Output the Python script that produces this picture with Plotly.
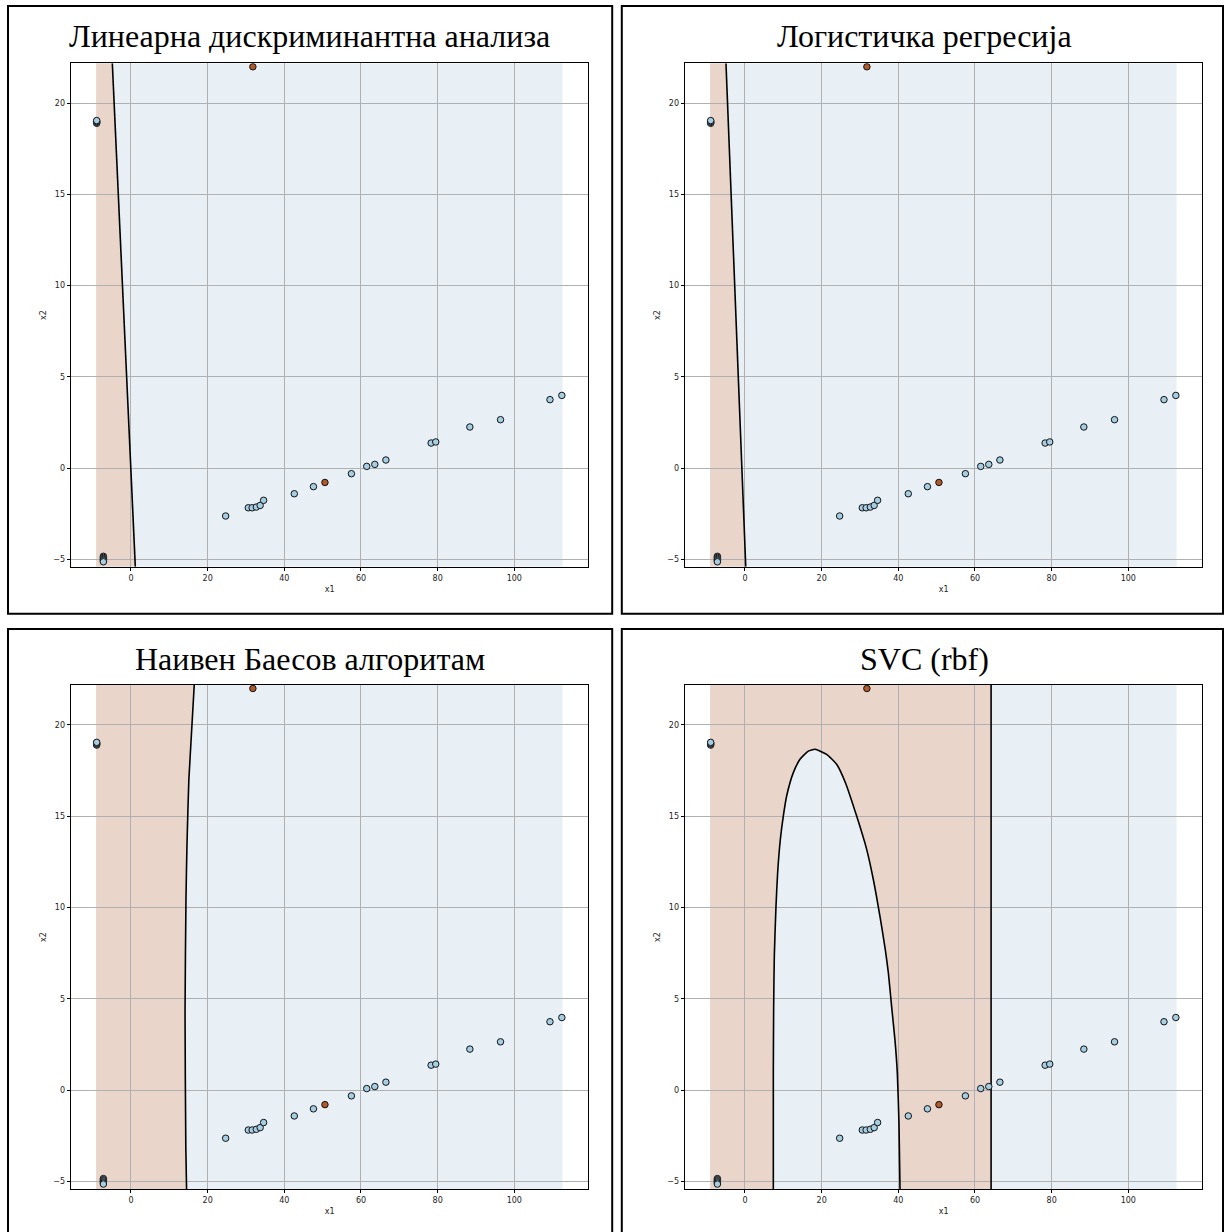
import plotly.graph_objects as go

# ---------------- data ----------------
titles = ["Линеарна дискриминантна анализа", "Логистичка регресија",
          "Наивен Баесов алгоритам", "SVC (rbf)"]

blue_x = [-8.95, -8.95, -8.95, -8.95, -7.2, -7.2, -7.2, -7.2, -7.2, -7.2,
          24.7, 30.6, 31.6, 32.7, 33.7, 34.6, 42.6, 47.6, 57.5, 61.5, 63.6,
          66.5, 78.3, 79.5, 88.4, 96.4, 109.3, 112.4]
blue_y = [18.9, 18.95, 19.0, 19.05, -4.84, -4.9, -4.96, -5.02, -5.08, -5.14,
          -2.63, -2.18, -2.18, -2.14, -2.05, -1.77, -1.41, -1.02, -0.31, 0.09, 0.2,
          0.44, 1.37, 1.43, 2.25, 2.65, 3.75, 3.98]
orange_x = [31.8, 50.6]
orange_y = [22.0, -0.79]

# mesh extent (decision-region grid)
mesh_x = [-9.1, 112.6]
mesh_y = [-5.41, 22.19]

# axis ranges
x_range = [-15.65, 119.3]
y_range = [-5.41, 22.19]
x_ticks = [0, 20, 40, 60, 80, 100]
y_ticks = [-5, 0, 5, 10, 15, 20]

# decision boundaries
lda_x = [-4.87, 1.13]
lda_y = [22.19, -5.41]
lr_x = [-4.96, 0.2]
lr_y = [22.19, -5.41]
nb_x = [16.5, 15.1, 14.6, 14.35, 14.1, 14.3, 14.5]
nb_y = [22.19, 17.02, 13.37, 10.55, 4.25, -3.08, -5.41]
svc_arch_x = [7.39, 7.39, 7.48, 7.65, 8.09, 8.52, 9.22, 10.0, 10.87, 12.61, 14.35,
              16.52, 18.26, 21.3, 23.9, 26.2, 29.13, 31.74, 33.48, 35.2, 36.6,
              37.4, 38.26, 39.13, 39.74, 40.17, 40.44]
svc_arch_y = [-5.41, 0.94, 4.56, 7.34, 10.08, 11.91, 13.73, 15.01, 16.11, 17.39, 18.12,
              18.57, 18.67, 18.39, 17.85, 16.84, 15.01, 13.19, 11.54, 9.53, 7.70,
              6.43, 4.56, 2.73, 0.94, -1.8, -5.41]
svc_line_x = [64.2, 64.2]
svc_line_y = [22.19, -5.41]

# ---------------- style ----------------
W, H = 1224, 1232
BLUE_PT = "#a6cee3"
ORANGE_PT = "#b15928"
BLUE_FILL = "#e8f0f6"
ORANGE_FILL = "#e9d5c9"
GRID = "#b0b0b0"

ax_x = [(71, 588.3), (685, 1202.3), (71, 588.3), (685, 1202.3)]
ax_y = [(63.3, 566.7), (63.3, 566.7), (685, 1189), (685, 1189)]

fig = go.Figure()
layout = dict(width=W, height=H, margin=dict(l=0, r=0, t=0, b=0),
              paper_bgcolor="white", plot_bgcolor="white", showlegend=False)

def poly_path(xs, ys):
    p = "M %f,%f" % (xs[0], ys[0])
    for a, b in zip(xs[1:], ys[1:]):
        p += " L %f,%f" % (a, b)
    return p + " Z"

shapes = []
annotations = []

boundaries = [
    [(lda_x, lda_y, "linear")],
    [(lr_x, lr_y, "linear")],
    [(nb_x, nb_y, "spline")],
    [(svc_arch_x, svc_arch_y, "spline"), (svc_line_x, svc_line_y, "linear")],
]

for i in range(4):
    n = "" if i == 0 else str(i + 1)
    xa, ya = "x" + n, "y" + n
    x0p, x1p = ax_x[i]
    y0p, y1p = ax_y[i]
    layout["xaxis" + n] = dict(
        domain=[x0p / W, x1p / W], anchor=ya, range=x_range,
        tickvals=x_ticks, ticktext=[str(v) for v in x_ticks],
        showgrid=True, gridcolor=GRID, gridwidth=0.8, zeroline=False,
        showline=True, linecolor="#000", linewidth=0.8, mirror=True,
        ticks="outside", ticklen=3.5, tickwidth=0.8, tickcolor="#000",
        tickfont=dict(family="DejaVu Sans", size=8, color="#222"),
        title=dict(text="x1", font=dict(family="DejaVu Sans", size=8, color="#222"), standoff=4),
    )
    layout["yaxis" + n] = dict(
        domain=[1 - y1p / H, 1 - y0p / H], anchor=xa, range=y_range,
        tickvals=y_ticks, ticktext=[("−5" if v < 0 else str(v)) for v in y_ticks],
        showgrid=True, gridcolor=GRID, gridwidth=0.8, zeroline=False,
        showline=True, linecolor="#000", linewidth=0.8, mirror=True,
        ticks="outside", ticklen=3.5, tickwidth=0.8, tickcolor="#000",
        tickfont=dict(family="DejaVu Sans", size=8, color="#222"),
        title=dict(text="x2", font=dict(family="DejaVu Sans", size=8, color="#222"), standoff=5),
    )
    # decision region fills (below grid)
    shapes.append(dict(type="rect", xref=xa, yref=ya, x0=mesh_x[0], x1=mesh_x[1],
                       y0=mesh_y[0], y1=mesh_y[1], fillcolor=BLUE_FILL,
                       line=dict(width=0), layer="below"))
    if i in (0, 1, 2):
        bx, by, _ = boundaries[i][0]
        px = [mesh_x[0]] + bx + [mesh_x[0]]
        py = [by[0]] + by + [by[-1]]
        shapes.append(dict(type="path", xref=xa, yref=ya, path=poly_path(px, py),
                           fillcolor=ORANGE_FILL, line=dict(width=0), layer="below"))
    else:
        shapes.append(dict(type="rect", xref=xa, yref=ya, x0=mesh_x[0], x1=svc_line_x[0],
                           y0=mesh_y[0], y1=mesh_y[1], fillcolor=ORANGE_FILL,
                           line=dict(width=0), layer="below"))
        shapes.append(dict(type="path", xref=xa, yref=ya,
                           path=poly_path(svc_arch_x, svc_arch_y),
                           fillcolor=BLUE_FILL, line=dict(width=0), layer="below"))
    # boundary lines
    for bx, by, shp in boundaries[i]:
        fig.add_trace(go.Scatter(x=bx, y=by, mode="lines", xaxis=xa, yaxis=ya,
                                 line=dict(color="#000", width=1.6, shape=shp,
                                           smoothing=0.5),
                                 hoverinfo="skip"))
    # points
    fig.add_trace(go.Scatter(x=blue_x, y=blue_y, mode="markers", xaxis=xa, yaxis=ya,
                             marker=dict(color=BLUE_PT, size=6.5,
                                         line=dict(color="#111", width=1))))
    fig.add_trace(go.Scatter(x=orange_x, y=orange_y, mode="markers", xaxis=xa, yaxis=ya,
                             marker=dict(color=ORANGE_PT, size=6.5,
                                         line=dict(color="#111", width=1))))

# panel frames
frames = [(8, 6, 612.2, 613.8), (621.8, 6, 1223, 613.8),
          (8, 629, 612.2, 1240), (621.8, 629, 1223, 1240)]
for (l, t, r, b) in frames:
    shapes.append(dict(type="rect", xref="paper", yref="paper",
                       x0=l / W, x1=r / W, y0=1 - b / H, y1=1 - t / H,
                       line=dict(color="#000", width=2), fillcolor="rgba(0,0,0,0)",
                       layer="above"))

title_cx = [309.9, 924, 309.9, 924]
title_cy = [36.0, 36.0, 658.6, 658.6]
for i in range(4):
    annotations.append(dict(text=titles[i], xref="paper", yref="paper",
                            x=title_cx[i] / W, y=1 - title_cy[i] / H,
                            xanchor="center", yanchor="middle", showarrow=False,
                            font=dict(family="Liberation Serif", size=32, color="#000")))

layout["shapes"] = shapes
layout["annotations"] = annotations
fig.update_layout(**layout)
fig.write_html("out.html")
